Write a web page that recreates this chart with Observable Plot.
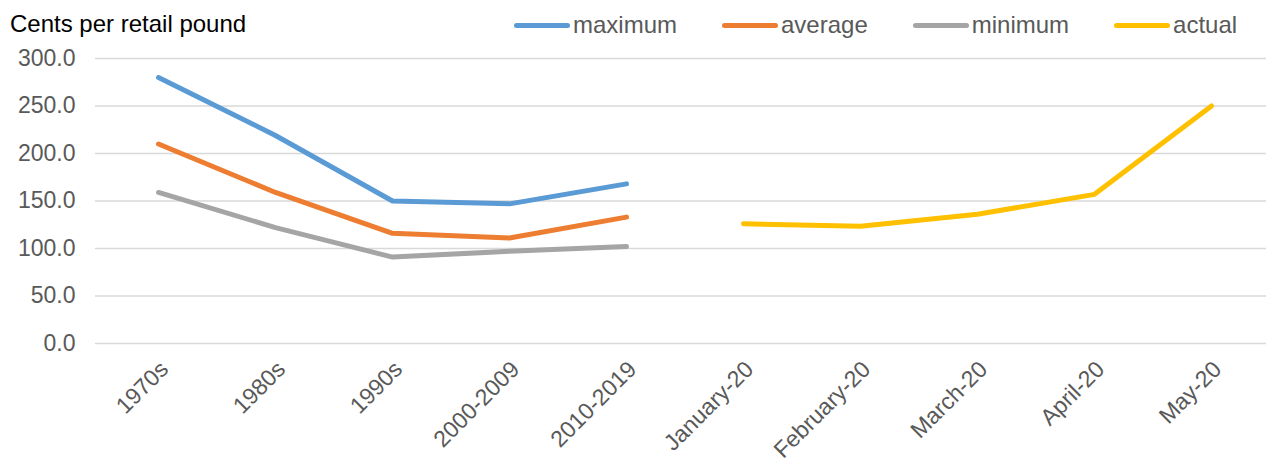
<!DOCTYPE html>
<html>
<head>
<meta charset="utf-8">
<script src="https://cdn.jsdelivr.net/npm/d3@7"></script>
<script src="https://cdn.jsdelivr.net/npm/@observablehq/plot@0.6"></script>
<style>
  html, body { margin: 0; padding: 0; background: #fff; }
  #wrap { position: relative; width: 1266px; height: 459px; font-family: "Liberation Sans", Arial, sans-serif; }
  #title { position: absolute; left: 10px; top: 12px; font-size: 24px; line-height: 1; color: #000; }
  #legend { position: absolute; left: 514px; top: 13px; display: flex; gap: 45px; font-size: 24px; line-height: 24px; color: #595959; }
  .item { display: flex; align-items: center; gap: 3px; }
  .sw { width: 56px; height: 5px; border-radius: 3px; }
  #chart { position: absolute; left: 0; top: 0; }
</style>
</head>
<body>
<div id="wrap">
  <div id="chart"></div>
  <div id="title">Cents per retail pound</div>
  <div id="legend"></div>
</div>
<script>
const categories = ["1970s","1980s","1990s","2000-2009","2010-2019","January-20","February-20","March-20","April-20","May-20"];
const maximum = [280, 219, 150, 147, 168, null, null, null, null, null];
const average = [210, 159, 116, 111, 133, null, null, null, null, null];
const minimum = [159, 122, 91, 97, 102, null, null, null, null, null];
const actual  = [null, null, null, null, null, 126, 123.5, 136, 157, 250];
const seriesNames = ["maximum", "average", "minimum", "actual"];
const seriesColors = ["#5B9BD5", "#ED7D31", "#A5A5A5", "#FFC000"];
const yTicks = [0, 50, 100, 150, 200, 250, 300];

const seriesValues = [maximum, average, minimum, actual];
const rows = [];
seriesNames.forEach((name, i) => {
  seriesValues[i].forEach((v, j) => {
    if (v != null) rows.push({series: name, cat: categories[j], value: v});
  });
});

const chart = Plot.plot({
  width: 1266,
  height: 459,
  marginLeft: 95,
  marginRight: 0,
  marginTop: 58,
  marginBottom: 116,
  style: {fontFamily: "Liberation Sans, Arial, sans-serif", background: "transparent"},
  x: {type: "point", domain: categories, range: [154, 1214], padding: 0},
  y: {domain: [0, 300]},
  color: {domain: seriesNames, range: seriesColors},
  marks: [
    Plot.ruleY(yTicks, {stroke: "#D9D9D9", strokeWidth: 1.5}),
    Plot.axisY({ticks: yTicks, tickFormat: d => d.toFixed(1), tickSize: 0, tickPadding: 20, fontSize: 23, fill: "#595959", label: null}),
    Plot.axisX({tickRotate: -45, tickSize: 0, tickPadding: 22, dx: 6, fontSize: 23, fill: "#595959", label: null}),
    Plot.line(rows, {x: "cat", y: "value", z: "series", stroke: "series", strokeWidth: 5, strokeLinecap: "round", strokeLinejoin: "round"})
  ]
});
document.getElementById("chart").appendChild(chart);

const legend = d3.select("#legend");
seriesNames.forEach((name, i) => {
  const it = legend.append("div").attr("class", "item");
  it.append("div").attr("class", "sw").style("background", seriesColors[i]);
  it.append("span").text(name);
});
</script>
</body>
</html>
